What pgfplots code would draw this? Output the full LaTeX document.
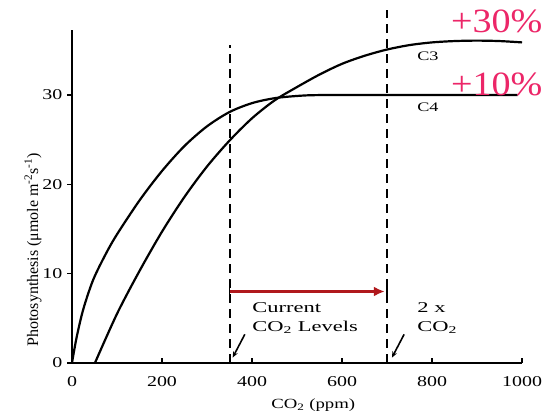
\documentclass[border=0pt]{standalone}
\usepackage{pgfplots}
\pgfplotsset{compat=1.18}
\usepackage{fontspec}
\setmainfont{Liberation Serif}
\usetikzlibrary{arrows.meta}
\definecolor{pinkred}{RGB}{236,38,104}
\definecolor{arrowred}{RGB}{176,24,28}

\begin{document}
\begin{tikzpicture}
\begin{axis}[
    scale only axis,
    width=450pt, height=333pt,
    xmin=0, xmax=1000, ymin=0, ymax=37.3,
    axis lines*=left,
    axis line style={line width=2pt, -},
    xtick={0,200,400,600,800,1000},
    ytick={0,10,20,30},
    tick align=outside,
    major tick length=5pt,
    tick style={line width=1.4pt, black},
    x tick style={yshift=5pt},
    /pgf/number format/assume math mode=true,
    /pgf/number format/1000 sep={},
    x tick label style={font=\fontsize{15}{18}\selectfont, xscale=1.33, yshift=-5pt},
    y tick label style={font=\fontsize{15}{18}\selectfont, xscale=1.33},
    xlabel={CO\textsubscript{2} (ppm)},
    xlabel style={font=\fontsize{14}{16}\selectfont, xscale=1.34,
        at={(axis description cs:0.536,-0.126)}, anchor=center},
    ylabel={Photosynthesis (μmole m\textsuperscript{-2}s\textsuperscript{-1})},
    ylabel style={font=\fontsize{16}{18}\selectfont,
        at={(axis description cs:-0.0867,0.34)}, anchor=center, rotate=0},
    clip=false,
]
% C4 curve
\addplot[black, line width=2.2pt, smooth] coordinates {
    (0,0) (10,2.8) (25,6.0) (47,9.3) (75,12.2) (100,14.4) (150,18.2)
    (200,21.5) (250,24.3) (300,26.5) (350,28.1) (400,29.1) (450,29.65)
    (500,29.9) (550,30) (700,30) (850,30) (990,30)
};
% C3 curve
\addplot[black, line width=2.2pt, smooth] coordinates {
    (51,0) (100,5.5) (150,10.3) (200,14.7) (250,18.6) (300,22.0) (350,24.9)
    (400,27.4) (450,29.4) (500,30.9) (550,32.3) (600,33.5) (650,34.4)
    (700,35.1) (750,35.6) (800,35.9) (850,36.05) (900,36.1) (950,36.05) (1000,35.9)
};
% dashed reference lines
\addplot[black, line width=2pt, dash pattern=on 9pt off 6pt] coordinates {(350,0) (350,35.6)};
\addplot[black, line width=2pt, dash pattern=on 9pt off 6pt] coordinates {(700,0) (700,39.5)};
% red range arrow
\addplot[arrowred, line width=3.5pt, -{Latex[length=11pt,width=10pt]}] coordinates {(350,8) (695,8)};
\draw[black, line width=1.2pt] (axis cs:350,7.2) -- (axis cs:350,8.8);
\draw[black, line width=1.2pt] (axis cs:700,7.2) -- (axis cs:700,8.8);
% pointer arrows
\draw[black, line width=1.6pt, -{Stealth[length=6pt,width=5pt]}] (axis cs:384,3.2) -- (axis cs:357,0.6);
\draw[black, line width=1.6pt, -{Stealth[length=6pt,width=5pt]}] (axis cs:738,3.2) -- (axis cs:711,0.6);
% labels
\node[anchor=west, align=left, font=\fontsize{15}{19}\selectfont, xscale=1.5, inner sep=0pt]
    at (axis cs:400,5.0) {Current\\CO\textsubscript{2} Levels};
\node[anchor=west, align=left, font=\fontsize{15}{19}\selectfont, xscale=1.5, inner sep=0pt]
    at (axis cs:767,5.0) {2 x\\CO\textsubscript{2}};
\node[font=\fontsize{13}{14}\selectfont, xscale=1.4] at (axis cs:791,34.4) {C3};
\node[font=\fontsize{13}{14}\selectfont, xscale=1.4] at (axis cs:791,28.6) {C4};
\node[anchor=west, text=pinkred, font=\fontsize{34}{36}\selectfont, xscale=1.12, inner sep=0pt]
    at (axis cs:842,38.3) {+30\%};
\node[anchor=west, text=pinkred, font=\fontsize{34}{36}\selectfont, xscale=1.12, inner sep=0pt]
    at (axis cs:842,31.2) {+10\%};
\coordinate (bbll) at (axis cs:-160,-6.16);
\coordinate (bbur) at (axis cs:1064.4,40.65);
\end{axis}
\pgfresetboundingbox
\path[use as bounding box] (bbll) rectangle (bbur);
\end{tikzpicture}
\end{document}
